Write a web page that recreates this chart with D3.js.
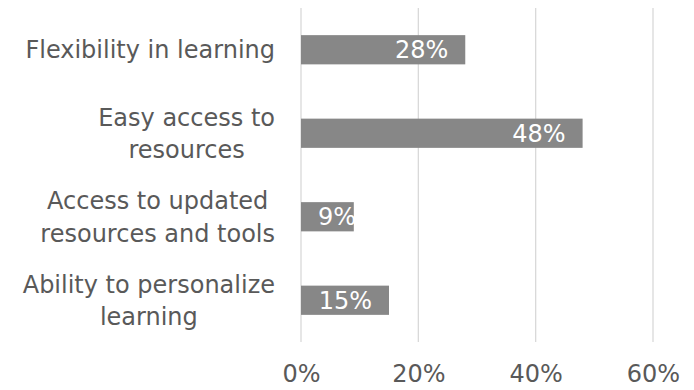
<!DOCTYPE html>
<html>
<head>
<meta charset="utf-8">
<script src="https://cdn.jsdelivr.net/npm/d3@7"></script>
<style>
  body { margin: 0; background: #fff; }
  text { font-family: "DejaVu Sans", sans-serif; }
</style>
</head>
<body>
<div id="chart"></div>
<script>
// chart data
const categories = ["Flexibility in learning", "Easy access to\nresources", "Access to updated\nresources and tools", "Ability to personalize\nlearning"];
const values = [0.28, 0.48, 0.09, 0.15];
const tickValues = [0, 0.2, 0.4, 0.6];

const width = 694,
      height = 390;
const fontSize = 24;
const lineHeight = 32.6;

const svg = d3.select("#chart")
  .append("svg")
    .attr("width", width)
    .attr("height", height);

// scales
const x = d3.scaleLinear()
  .domain([0, 0.6])
  .range([301, 653]);

const y = d3.scaleBand()
  .domain(categories)
  .range([8, 342])
  .paddingInner(0.65)
  .paddingOuter(0.325);

// gridlines
svg.append("g")
  .selectAll("line")
  .data(tickValues)
  .join("line")
    .attr("x1", d => x(d))
    .attr("x2", d => x(d))
    .attr("y1", 8)
    .attr("y2", 342)
    .attr("stroke", "#d9d9d9")
    .attr("stroke-width", 1.3);

// x axis labels
const xAxis = d3.axisBottom(x)
  .tickValues(tickValues)
  .tickFormat(d3.format(".0%"))
  .tickSize(0);

svg.append("g")
  .attr("transform", "translate(0,362)")
  .call(xAxis)
  .call(g => g.select(".domain").remove())
  .selectAll("text")
    .attr("font-size", fontSize)
    .attr("font-family", null)
    .attr("fill", "#595959");

// bars
svg.append("g")
  .selectAll("rect")
  .data(values)
  .join("rect")
    .attr("x", x(0))
    .attr("y", (d, i) => y(categories[i]))
    .attr("width", d => x(d) - x(0))
    .attr("height", y.bandwidth())
    .attr("fill", "#878787");

// value labels, inside end
const fmt = d3.format(".0%");
svg.append("g")
  .selectAll("text")
  .data(values)
  .join("text")
    .attr("y", (d, i) => y(categories[i]) + y.bandwidth() / 2)
    .attr("dy", "0.36em")
    .attr("text-anchor", "end")
    .attr("font-size", fontSize)
    .attr("fill", "#fff")
    .text(d => fmt(d))
    .attr("x", function(d) {
      const w = this.getComputedTextLength();
      return Math.max(x(d) - 17, x(0) + w + 17);
    });

// category labels: lines centred in a block whose right edge sits at 275
const labels = svg.append("g")
  .selectAll("text")
  .data(categories)
  .join("text")
    .attr("text-anchor", "middle")
    .attr("font-size", fontSize)
    .attr("fill", "#595959");

labels.selectAll("tspan")
  .data(d => d.split("\n"))
  .join("tspan")
    .attr("y", (d, i) => i * lineHeight)
    .attr("dy", "0.36em")
    .text(d => d);

labels.each(function(d) {
  const t = d3.select(this);
  const n = d.split("\n").length;
  let maxW = 0;
  t.selectAll("tspan").each(function() {
    maxW = Math.max(maxW, this.getComputedTextLength());
  });
  t.selectAll("tspan").attr("x", 0);
  const cy = y(d) + y.bandwidth() / 2 - (n - 1) * lineHeight / 2;
  t.attr("transform", `translate(${275 - maxW / 2},${cy})`);
});
</script>
</body>
</html>
